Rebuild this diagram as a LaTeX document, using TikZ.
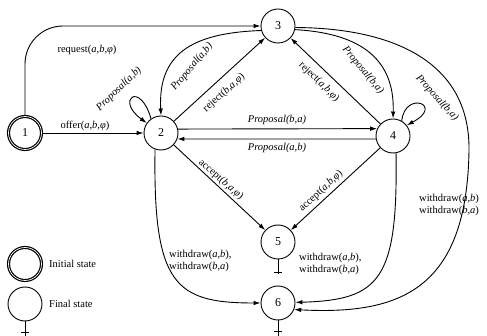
\documentclass[tikz,border=0pt]{standalone}
\usepackage{fontspec}
\setmainfont{Liberation Serif}
\usetikzlibrary{arrows.meta}
\tikzset{
  state/.style={circle, draw, line width=0.9pt, minimum size=34pt, inner sep=0pt, font=\fontsize{12}{14}\selectfont},
  initstate/.style={state, double, double distance=0.7pt, line width=1.2pt, minimum size=33pt},
  arr/.style={draw, line width=0.9pt, -{Latex[length=7pt,width=4.5pt]}},
  plain/.style={draw, line width=0.9pt},
  lab/.style={inner sep=0pt, font=\fontsize{10.5}{12.5}\selectfont},
}
\newcommand{\ab}{(\textit{a,b})}
\newcommand{\ba}{(\textit{b,a})}
\newcommand{\abp}{(\textit{a,b,φ})}
\newcommand{\bap}{(\textit{b,a,φ})}
\begin{document}
\begin{tikzpicture}[x=1pt,y=-1pt]
\useasboundingbox (0,0) rectangle (487,336);
% states
\node[initstate] (n1) at (25,133) {1};
\node[state] (n2) at (161,133) {2};
\node[state] (n3) at (278,26) {3};
\node[state] (n4) at (393,136) {4};
\node[state] (n5) at (278,242) {5};
\node[state] (n6) at (278,303) {6};
% legend
\node[initstate] (l1) at (25,264) {};
\node[state] (l2) at (25,304) {};
\node[lab, anchor=west] (lt1) at (49,264) {Initial state};
\node[lab, anchor=west] (lt2) at (49,304) {Final state};
% final markers
\coordinate (f5) at (278,274);
\coordinate (f6) at (278,336);
\coordinate (fl) at (25,336);
\draw[plain] (n5.south) -- (f5);
\draw[plain] ([xshift=-4pt,yshift=-13pt]n5.south) -- ([xshift=4pt,yshift=-13pt]n5.south);
\draw[plain] (n6.south) -- (f6);
\draw[plain] ([xshift=-4pt,yshift=-11pt]n6.south) -- ([xshift=4pt,yshift=-11pt]n6.south);
\draw[plain] (l2.south) -- (fl);
\draw[plain] ([xshift=-4pt,yshift=-11pt]l2.south) -- ([xshift=4pt,yshift=-11pt]l2.south);
% 1 -> 3 request
\draw[arr, rounded corners=38pt] (n1.north) |- (n3.west);
\node[lab] (t1) at (87,50) {request\abp};
% 1 -> 2 offer
\draw[arr] (n1) -- (n2);
\node[lab] (t2) at (85,126) {offer\abp};
% 2 self loop
\draw[arr] (n2.125) .. controls (140,80) and (115,100) .. (n2.145);
\node[lab, rotate=44] (t3) at (119,89) {\textit{Proposal(a,b)}};
% 3 -> 2 curve
\draw[arr] (n3.195) .. controls (190,33) and (158,55) .. (n2.north);
\node[lab, rotate=50] (t4) at (192,67) {\textit{Proposal(a,b)}};
% 2 -> 3 reject
\draw[arr] (n2) -- (n3);
\node[lab, rotate=42] (t5) at (224,93) {reject\bap};
% 4 -> 3 reject
\draw[arr] (n4) -- (n3);
\node[lab, rotate=-44] (t6) at (319,82) {reject\abp};
% 3 -> 4 curve
\draw[arr] (n3.-12) .. controls (355,33) and (395,55) .. (n4.north);
\node[lab, rotate=-50] (t7) at (363,70) {\textit{Proposal(b,a)}};
% 4 self loop
\draw[arr] (n4.60) .. controls (405,90) and (445,105) .. (n4.38);
\node[lab, rotate=-48] (t8) at (437,98) {\textit{Proposal(b,a)}};
% 2 <-> 4
\draw[arr] (n2.13.6) -- (n4.155.7);
\draw[arr] (n4.190.2) -- (n2.-20.7);
\node[lab] (t9) at (277,120) {\textit{Proposal(b,a)}};
\node[lab] (t10) at (277,148) {\textit{Proposal(a,b)}};
% accepts
\draw[arr] (n2) -- (n5);
\node[lab, rotate=-41] (t11) at (221,180) {accept\bap};
\draw[arr] (n4) -- (n5);
\node[lab, rotate=43] (t12) at (321,191) {accept\abp};
% withdraws
\draw[arr] (n2.-110) .. controls (153,285) and (175,303) .. (n6.west);
\node[lab, anchor=west, align=left] (t13) at (169,261) {withdraw\ab,\\withdraw\ba};
\draw[arr] (n4.-80) .. controls (398,280) and (380,300) .. (n6.2);
\node[lab, anchor=west, align=left] (t14) at (299,264) {withdraw\ab,\\withdraw\ba};
\draw[arr] (n3.-5) .. controls (390,28) and (470,60) .. (469,150)
   .. controls (467,290) and (400,315) .. (n6.-22);
\node[lab, anchor=west, align=left] (t15) at (419,205) {withdraw\ab\\withdraw\ba};
\end{tikzpicture}
\end{document}
